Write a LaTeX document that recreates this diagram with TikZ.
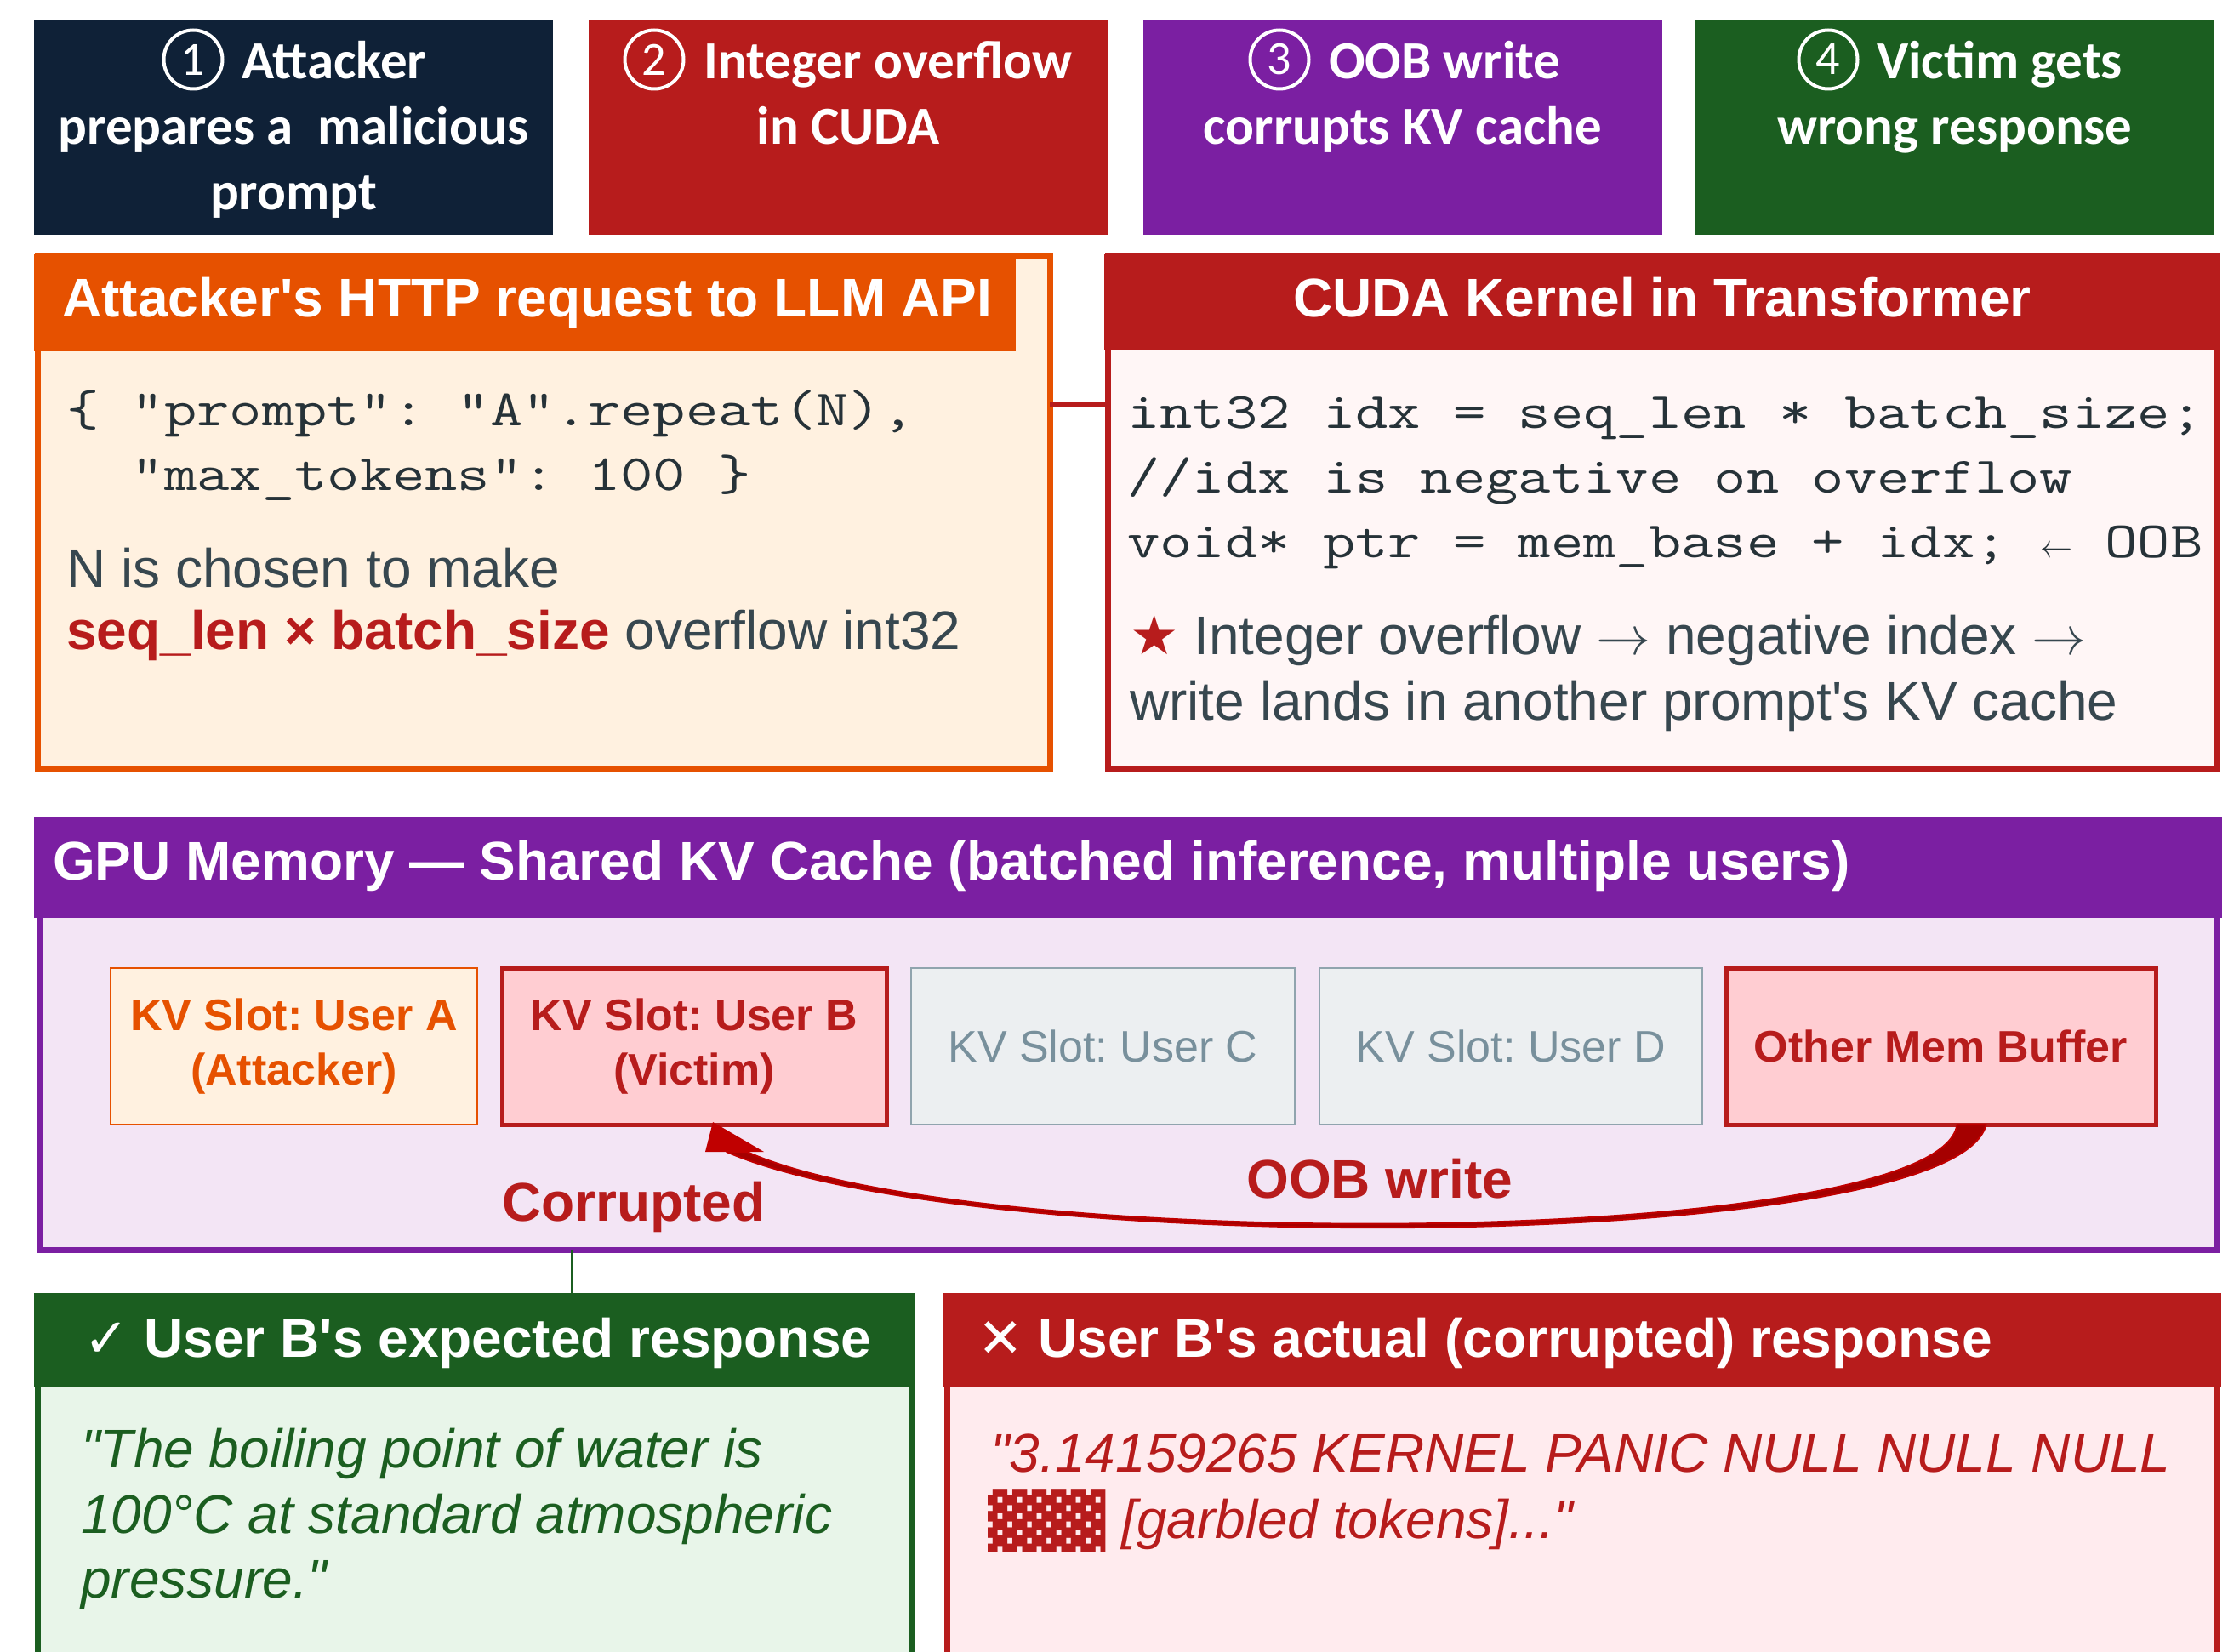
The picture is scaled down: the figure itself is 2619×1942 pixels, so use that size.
\RequirePackage{fix-cm}
\documentclass[tikz,border=0pt]{standalone}
\usepackage{fontspec}
\usepackage{graphicx}
\setmainfont{Liberation Sans}[Ligatures=TeXOff]
\newfontfamily\calfont{Carlito}[Ligatures=TeXOff]
\newfontfamily\codefont{Latin Modern Mono}[FakeStretch=1.24]
\newfontfamily\symfont{DejaVu Sans}
\usetikzlibrary{calc}
\definecolor{navy}{HTML}{0F2137}
\definecolor{dred}{HTML}{B71C1C}
\definecolor{purp}{HTML}{7B1FA2}
\definecolor{dgreen}{HTML}{1B5E20}
\definecolor{orng}{HTML}{E65100}
\definecolor{creamA}{HTML}{FFF1E0}
\definecolor{pinkB}{HTML}{FFF6F6}
\definecolor{lilac}{HTML}{F3E5F5}
\definecolor{slotpink}{HTML}{FFCDD2}
\definecolor{slotgrey}{HTML}{ECEFF1}
\definecolor{greyline}{HTML}{90A4AE}
\definecolor{greytext}{HTML}{78909C}
\definecolor{lgreen}{HTML}{E8F5E9}
\definecolor{lpink}{HTML}{FFEBEE}
\definecolor{slate}{HTML}{37474F}
\definecolor{codeink}{HTML}{263238}
\definecolor{arrowred}{HTML}{C00000}
\definecolor{arrowdark}{HTML}{A50000}
\newcommand\myfs[2]{\fontsize{#1}{#2}\selectfont}
\frenchspacing
\begin{document}
\frenchspacing
\begin{tikzpicture}[x=1pt,y=-1pt,
  boxx/.style={inner sep=0pt, outer sep=0pt},
  stepbox/.style={boxx, minimum width=610pt, minimum height=253pt},
  ringnode/.style={circle, draw=white, line width=4pt, minimum size=69pt, inner sep=0pt, text=white, font=\calfont\myfs{56}{56}},
  steptxt/.style={inner sep=0pt, text=white, font=\calfont\bfseries\myfs{63}{77}},
  panelbox/.style={boxx, line width=7pt},
  hdrtxt/.style={inner sep=0pt, text=white, font=\bfseries\myfs{64}{64}},
  codetxt/.style={inner sep=0pt, anchor=base west, text=codeink, font=\codefont\myfs{60}{76}},
  bodytxt/.style={inner sep=0pt, anchor=base west, text=slate, font=\myfs{64}{75}},
  slotbox/.style={boxx, minimum height=184pt, align=center, font=\myfs{52}{64}},
  lbltxt/.style={inner sep=0pt, anchor=base west, text=dred, font=\bfseries\myfs{64}{64}},
  quotetxt/.style={inner sep=0pt, anchor=base west, font=\itshape\myfs{64}{77}}
]
\clip (0,0) rectangle (2619,1942);
\fill[white] (0,0) rectangle (2619,1942);

% ---- step boxes ----
\node[stepbox, fill=navy]   (s1) at (345,149.5) {};
\node[stepbox, fill=dred]   (s2) at (997,149.5) {};
\node[stepbox, fill=purp]   (s3) at (1649,149.5) {};
\node[stepbox, fill=dgreen] (s4) at (2298,149.5) {};
\node[ringnode] (r1) at (227,70) {1};
\node[ringnode] (r2) at (769,70) {2};
\node[ringnode] (r3) at (1504,70) {3};
\node[ringnode] (r4) at (2149,70) {4};
\node[steptxt, anchor=base west] (t1a) at (284,93) {Attacker};
\node[steptxt, anchor=base] (t1b) at (345,170) {prepares a\ \ malicious};
\node[steptxt, anchor=base] (t1c) at (345,247) {prompt};
\node[steptxt, anchor=base west] (t2a) at (827,93) {Integer overflow};
\node[steptxt, anchor=base] (t2b) at (997,170) {in CUDA};
\node[steptxt, anchor=base west] (t3a) at (1562,93) {OOB write};
\node[steptxt, anchor=base] (t3b) at (1649,170) {corrupts KV cache};
\node[steptxt, anchor=base west] (t4a) at (2206,93) {Victim gets};
\node[steptxt, anchor=base] (t4b) at (2298,170) {wrong response};

% ---- panel A ----
\node[panelbox, draw=orng, fill=creamA, minimum width=1190pt, minimum height=602pt] (pA) at (639,603) {};
\node[boxx, fill=orng, minimum width=1154pt, minimum height=114pt] (hA) at (617,356) {};
\node[hdrtxt, anchor=base west] (hAt) at (73,373) {Attacker's HTTP request to LLM API};
\node[codetxt] (a1) at (78,500) {\{ "prompt": "A".repeat(N),};
\node[codetxt] (a2) at (78,576) {\ \ "max\_tokens": 100 \}};
\node[bodytxt] (a3) at (78,690) {N is chosen to make};
\node[bodytxt] (a4) at (78,763) {\textcolor{dred}{\bfseries seq\_len × batch\_size} overflow int32};

% ---- panel B ----
\node[panelbox, draw=dred, fill=pinkB, minimum width=1304pt, minimum height=602pt] (pB) at (1954,603) {};
\node[boxx, fill=dred, minimum width=1311pt, minimum height=112pt] (hB) at (1953.5,355) {};
\node[hdrtxt, anchor=base] (hBt) at (1954,373) {CUDA Kernel in Transformer};
\node[codetxt] (b1) at (1325,503) {int32 idx = seq\_len * batch\_size;};
\node[codetxt] (b2) at (1325,579) {//idx is negative on overflow};
\node[codetxt] (b3) at (1325,655) {void* ptr = mem\_base + idx; \makebox[38pt][c]{\myfs{38}{38}$\leftarrow$} OOB};
\node[bodytxt] (b4) at (1328,769) {\textcolor{dred}{\symfont ★} Integer overflow $\rightarrow$ negative index $\rightarrow$};
\node[bodytxt] (b5) at (1328,846) {write lands in another prompt's KV cache};

% connector A -- B
\draw[dred, line width=7pt] ($(pA.north east)!0.289!(pA.south east)$) coordinate (cA) -- (cA -| pB.west);

% ---- GPU memory panel ----
\node[panelbox, draw=purp, fill=lilac, minimum width=2560pt, minimum height=506pt] (gpu) at (1326,1216) {};
\node[boxx, fill=purp, minimum width=2572pt, minimum height=119pt] (hG) at (1326,1019.5) {};
\node[hdrtxt, anchor=base west] (hGt) at (62,1034) {GPU Memory — Shared KV Cache (batched inference, multiple users)};

\node[slotbox, fill=creamA, draw=orng, line width=2.5pt, minimum width=431pt, text=orng, font=\bfseries\myfs{52}{64}] (sA) at (345.5,1230) {KV Slot: User A\\(Attacker)};
\node[slotbox, fill=slotpink, draw=dred, line width=5pt, minimum width=452pt, text=dred, font=\bfseries\myfs{52}{64}] (sB) at (816,1230) {KV Slot: User B\\(Victim)};
\node[slotbox, fill=slotgrey, draw=greyline, line width=2.5pt, minimum width=451pt, text=greytext] (sC) at (1296.5,1230) {KV Slot: User C};
\node[slotbox, fill=slotgrey, draw=greyline, line width=2.5pt, minimum width=450pt, text=greytext] (sD) at (1776,1230) {KV Slot: User D};
\node[slotbox, fill=slotpink, draw=dred, line width=5pt, minimum width=505pt, text=dred, font=\bfseries\myfs{52}{64}] (sO) at (2281.5,1230) {Other Mem Buffer};

% OOB write arrow (tapered)
\coordinate (aS) at ($(sO.south)+(36,0)$);
\coordinate (aT) at ($(sB.south)+(22,-3)$);
\coordinate (aE) at ($(aT)+(28,35)$);
\filldraw[fill=arrowdark, draw=arrowred, line width=2pt, line join=round]
  ($(aS)+(17,0)$) .. controls ($(aS)+(-18,151)$) and ($(aE)+(284,128)$) .. ($(aE)+(-12,0)$)
  -- ($(aE)+(12,0)$) .. controls ($(aE)+(284,122)$) and ($(aS)+(-36,145)$) .. ($(aS)+(-17,0)$) -- cycle;
\fill[arrowred] (aT) -- ($(aT)+(-9,35)$) -- ($(aT)+(60,35)$) -- cycle;

\node[lbltxt] (lc) at (590,1435) {Corrupted};
\node[lbltxt] (lo) at (1465,1408) {OOB write};

% ---- bottom panels ----
\node[panelbox, draw=dgreen, fill=lgreen, minimum width=1028pt, minimum height=466pt] (ex) at (558,1757) {};
\node[boxx, fill=dgreen, minimum width=1036pt, minimum height=110pt] (hE) at (558,1575) {};
\node[hdrtxt, anchor=base west] (hEt) at (98,1595) {{\symfont\mdseries ✓} User B's expected response};
\node[quotetxt, text=dgreen] (e1) at (95,1725) {"The boiling point of water is};
\node[quotetxt, text=dgreen] (e2) at (95,1802) {100°C at standard atmospheric};
\node[quotetxt, text=dgreen] (e3) at (95,1878) {pressure."};

\node[panelbox, draw=dred, fill=lpink, minimum width=1493pt, minimum height=466pt] (ac) at (1859.5,1757) {};
\node[boxx, fill=dred, minimum width=1502pt, minimum height=110pt] (hX) at (1860,1575) {};
\node[hdrtxt, anchor=base west] (hXt) at (1149,1595) {{\symfont\mdseries ✕} User B's actual (corrupted) response};
\node[quotetxt, text=dred] (x1) at (1164,1730) {"3.14159265 KERNEL PANIC NULL NULL NULL};
\node[inner sep=0pt, anchor=north west, text=dred] (x2) at (1161,1750) {\resizebox*{139pt}{74pt}{\symfont ▓▓▓}};
\node[quotetxt, text=dred] (x3) at (1318,1808) {[garbled tokens]..."};

% connector GPU -- expected
\coordinate (gx) at (672,0);
\draw[dgreen, line width=3pt] (gpu.south -| gx) -- (ex.north -| gx);
\end{tikzpicture}
\end{document}
